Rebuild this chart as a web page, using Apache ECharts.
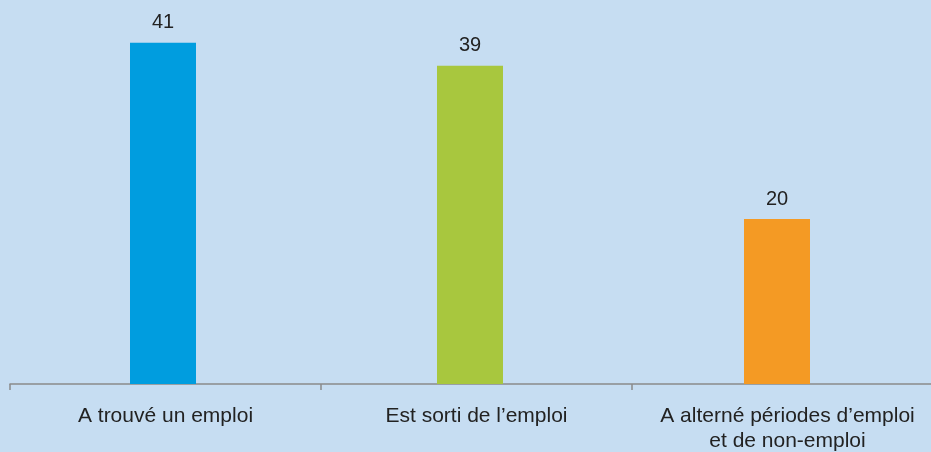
<html>

<head>
    <script src="https://cdn.jsdelivr.net/npm/echarts@6/dist/echarts.min.js"></script>
    <style>
        html, body {
            margin: 0;
            padding: 0;
            background-color: #c6ddf2;
        }

        #chart {
            width: 931px;
            height: 452px;
        }
    </style>
</head>

<body>
    <div id="chart"></div>
    <script>
        var categories = ['A trouvé un emploi', 'Est sorti de l’emploi', 'A alterné périodes d’emploi\net de non-emploi'];
        var values = [41.4, 38.6, 20.0];
        var barColors = ['#009ddf', '#a8c73e', '#f49a24'];

        var myChart = echarts.init(document.getElementById('chart'));
        var textFont = '"Liberation Sans", Arial, sans-serif';

        var option = {
            backgroundColor: '#c6ddf2',
            animation: false,
            grid: [
                // bars
                { left: 9.5, width: 921, top: 13, bottom: 68, outerBoundsMode: 'none' },
                // axis line, ticks and labels (runs past the right edge)
                { left: 10, width: 933, top: 13, bottom: 68, outerBoundsMode: 'none' }
            ],
            xAxis: [
                {
                    type: 'category',
                    gridIndex: 0,
                    data: categories,
                    axisLine: { show: false },
                    axisTick: { show: false },
                    axisLabel: { show: false }
                },
                {
                    type: 'category',
                    gridIndex: 1,
                    data: categories,
                    boundaryGap: true,
                    axisLine: { show: true, lineStyle: { color: '#8a8a8a', width: 1.5 } },
                    axisTick: { show: true, length: 6, alignWithLabel: false, lineStyle: { color: '#8a8a8a', width: 1.5 } },
                    axisLabel: {
                        color: '#222',
                        fontSize: 21,
                        fontFamily: textFont,
                        lineHeight: 25,
                        margin: 20,
                        interval: 0
                    }
                }
            ],
            yAxis: [
                { type: 'value', gridIndex: 0, min: 0, max: 45, show: false, splitLine: { show: false } },
                { type: 'value', gridIndex: 1, min: 0, max: 45, show: false, splitLine: { show: false } }
            ],
            series: [
                {
                    type: 'bar',
                    xAxisIndex: 0,
                    yAxisIndex: 0,
                    barWidth: 66,
                    data: values.map(function (v, i) {
                        return { value: v, itemStyle: { color: barColors[i] } };
                    }),
                    label: {
                        show: true,
                        position: 'top',
                        distance: 10,
                        color: '#222',
                        fontSize: 20,
                        fontFamily: textFont,
                        formatter: function (p) {
                            return Math.round(p.value);
                        }
                    }
                }
            ]
        };

        myChart.setOption(option);
    </script>
</body>

</html>
